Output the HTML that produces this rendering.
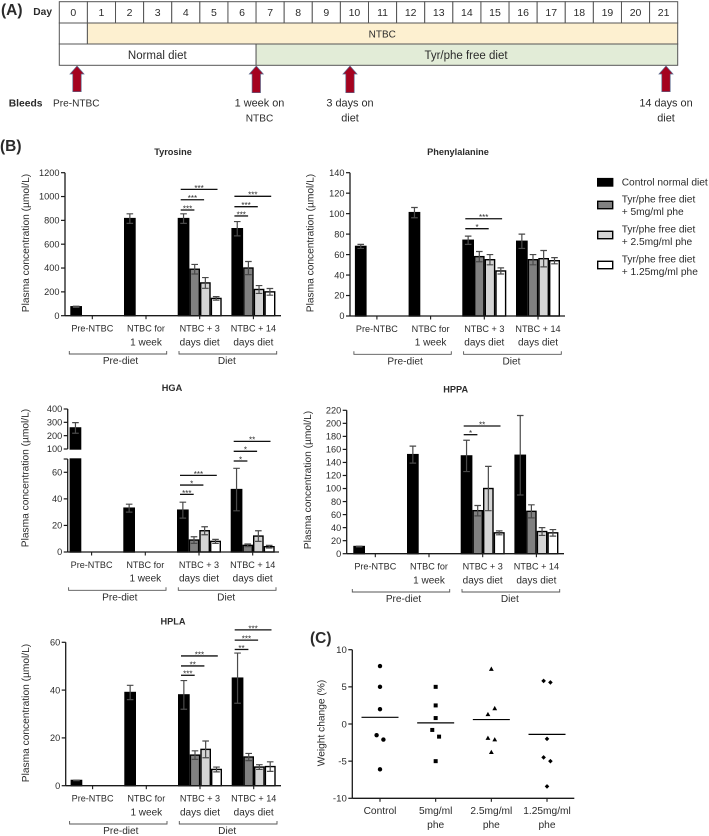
<!DOCTYPE html>
<html lang="en">
<head>
<meta charset="utf-8">
<title>Plasma metabolites on tyrosine/phenylalanine free diet</title>
<style>
html,body{margin:0;padding:0;background:#fff;}
body{width:709px;height:836px;overflow:hidden;}
svg{display:block;filter:blur(0.3px);}
text{font-family:"Liberation Sans",sans-serif;fill:#2b2b2b;}
</style>
</head>
<body>
<svg id="figure" xmlns="http://www.w3.org/2000/svg" width="709" height="836" viewBox="0 0 709 836"></svg>
<script>
// ---------- Panel A data ----------
const timelineDays = [0,1,2,3,4,5,6,7,8,9,10,11,12,13,14,15,16,17,18,19,20,21];
const bleedLabels = [["Pre-NTBC"],["1 week on","NTBC"],["3 days on","diet"],["14 days on","diet"]];

// ---------- Panel B shared categories ----------
const groupLabels = [["Pre-NTBC"],["NTBC for","1 week"],["NTBC + 3","days diet"],["NTBC + 14","days diet"]];
const bracketLabels = ["Pre-diet","Diet"];
const legendLabels = [["Control normal diet"],["Tyr/phe free diet","+ 5mg/ml phe"],["Tyr/phe free diet","+ 2.5mg/ml phe"],["Tyr/phe free diet","+ 1.25mg/ml phe"]];

// ---------- Tyrosine ----------
const tyrosineControl = [75,815,815,730];
const tyrosineControlErr = [5,40,40,60];
const tyrosine5mg = [390,400];
const tyrosine5mgErr = [40,55];
const tyrosine25mg = [275,220];
const tyrosine25mgErr = [45,33];
const tyrosine125mg = [145,200];
const tyrosine125mgErr = [15,28];
const tyrosineTicks = [0,200,400,600,800,1000,1200];
const tyrosineSigLevels = [1060,973,887,1002,915,837];
const tyrosineSigGroups = [2,2,2,3,3,3];
const tyrosineSigTargets = [3,2,1,3,2,1];
const tyrosineSigLabels = ["***","***","***","***","***","***"];

// ---------- Phenylalanine ----------
const pheControl = [68,101,74,73];
const pheControlErr = [2,5,4,7];
const phe5mg = [58,55];
const phe5mgErr = [5,5];
const phe25mg = [55,56];
const phe25mgErr = [5,8];
const phe125mg = [44,54];
const phe125mgErr = [3,3];
const pheTicks = [0,20,40,60,80,100,120,140];
const pheSigLevels = [95,85.3];
const pheSigGroups = [2,2];
const pheSigTargets = [3,2];
const pheSigLabels = ["***","*"];

// ---------- HGA ----------
const hgaControl = [258,33,31.5,47];
const hgaControlErr = [40,3,6,16];
const hga5mg = [9,5];
const hga5mgErr = [2.5,1];
const hga25mg = [16,12];
const hga25mgErr = [3,4];
const hga125mg = [8,4];
const hga125mgErr = [1.5,1];
const hgaTicks = [0,20,40,60,100,200,300,400];
const hgaSigLevels = [57.7,50.4,43.4,83.3,75.8,68.5];
const hgaSigGroups = [2,2,2,3,3,3];
const hgaSigTargets = [3,2,1,3,2,1];
const hgaSigLabels = ["***","*","***","**","*","*"];

// ---------- HPPA ----------
const hppaControl = [11,152,150,151];
const hppaControlErr = [0.5,13,24,61];
const hppa5mg = [66,65];
const hppa5mgErr = [8,10];
const hppa25mg = [100,34];
const hppa25mgErr = [34,6];
const hppa125mg = [32,32];
const hppa125mgErr = [3,5];
const hppaTicks = [0,20,40,60,80,100,120,140,160,180,200,220];
const hppaSigLevels = [195.9,182.6];
const hppaSigGroups = [2,2];
const hppaSigTargets = [3,1];
const hppaSigLabels = ["**","*"];

// ---------- HPLA ----------
const hplaControl = [2.2,39,38,45];
const hplaControlErr = [0.1,3,6,10.5];
const hpla5mg = [12.8,12];
const hpla5mgErr = [1.8,1.5];
const hpla25mg = [15.2,7.8];
const hpla25mgErr = [3.5,1];
const hpla125mg = [6.8,8];
const hpla125mgErr = [1,2];
const hplaTicks = [0,20,40,60];
const hplaSigLevels = [54.3,50.1,46.2,65.2,60.9,57];
const hplaSigGroups = [2,2,2,3,3,3];
const hplaSigTargets = [3,2,1,3,2,1];
const hplaSigLabels = ["***","**","***","***","***","**"];

// ---------- Panel C ----------
const weightCategories = [["Control"],["5mg/ml","phe"],["2.5mg/ml","phe"],["1.25mg/ml","phe"]];
const weightTicks = [-10,-5,0,5,10];
const weightControl = [7.8,5,2,-1.5,-2.1,-6.1];
const weight5mg = [5,2.5,0.8,-0.8,-1.7,-5];
const weight25mg = [7.4,2.1,1.3,-1.9,-2.1,-3.8];
const weight125mg = [5.8,5.6,-2,-4.5,-5,-8.4];
const weightControlSwarm = [0,0,0,-1,1,0];
const weight5mgSwarm = [0,0,0,-1,1,0];
const weight25mgSwarm = [0,1,-1,-1,1,0];
const weight125mgSwarm = [-1,1,0,-1,1,0];
const weightMeans = [0.9,0.15,0.6,-1.4];

const svg = document.getElementById('figure');
const NS = 'http://www.w3.org/2000/svg';
const AXIS = '#1a1a1a';

function make(parent, tag, attrs, content) {
  const el = document.createElementNS(NS, tag);
  for (const k in attrs) el.setAttribute(k, attrs[k]);
  if (content !== undefined) el.textContent = content;
  parent.appendChild(el);
  return el;
}

// ===== Panel A =====
(function panelA() {
  const g = make(svg, 'g', {});
  
  
  const L = 59.3, R = 677.7, T = 1.7, r1 = 23, r2 = 44, r3 = 65.3;
  const cell = (R - L) / timelineDays.length;
  const dayX = d => L + d * cell;

  let el = make(g, 'text', {x: 1, y: 15, 'font-size': 15.5, 'font-weight': 'bold', fill: '#111'}, '(A)');
  
  
  el = make(g, 'text', {x: 33.3, y: 15, 'font-size': 10.2, 'font-weight': 'bold'}, 'Day');
  
  

  timelineDays.forEach((d, i) => {
    const c = make(g, 'rect', {x: dayX(i), y: T, width: cell, height: r1 - T, fill: '#fff', stroke: '#555', 'stroke-width': 1});
    
    
    const t = make(g, 'text', {x: dayX(i) + cell / 2, y: 15.9, 'font-size': 10.5, 'text-anchor': 'middle'}, d);
    
    
  });

  el = make(g, 'rect', {x: L, y: r1, width: cell, height: r2 - r1, fill: '#fff', stroke: '#555', 'stroke-width': 1});
  
  
  el = make(g, 'rect', {x: dayX(1), y: r1, width: R - dayX(1), height: r2 - r1, fill: '#fdf0d0', stroke: '#555', 'stroke-width': 1});
  
  
  el = make(g, 'text', {x: 382.3, y: 37.7, 'font-size': 10, 'text-anchor': 'middle'}, 'NTBC');
  
  
  el = make(g, 'rect', {x: L, y: r2, width: dayX(7) - L, height: r3 - r2, fill: '#fff', stroke: '#555', 'stroke-width': 1});
  
  
  el = make(g, 'text', {x: 157.3, y: 58.9, 'font-size': 11.5, 'text-anchor': 'middle'}, 'Normal diet');
  
  
  el = make(g, 'rect', {x: dayX(7), y: r2, width: R - dayX(7), height: r3 - r2, fill: '#e2ecd7', stroke: '#555', 'stroke-width': 1});
  
  
  el = make(g, 'text', {x: 466, y: 58.9, 'font-size': 11.5, 'text-anchor': 'middle'}, 'Tyr/phe free diet');
  
  

  el = make(g, 'text', {x: 8.7, y: 106.7, 'font-size': 10.3, 'font-weight': 'bold'}, 'Bleeds');
  
  

  const arrowX = [77, 256.3, 350, 666];
  const labelX = [76.3, 259.5, 350, 666];
  arrowX.forEach((x, i) => {
    const bottom = i === 0 || i === 3 ? 91.7 : 92.7;
    const a = make(g, 'path', {
      d: `M${x} 66 L${x + 7} 74 L${x + 4.2} 74 L${x + 4.2} ${bottom} L${x - 4.2} ${bottom} L${x - 4.2} 74 L${x - 7} 74 Z`,
      fill: '#a5021f', stroke: '#5d6a8e', 'stroke-width': 0.7
    });
    
    
    bleedLabels[i].forEach((line, j) => {
      const fs = line.indexOf('NTBC') >= 0 ? 10.1 : 10.9;
      const t = make(g, 'text', {x: labelX[i], y: 106.7 + j * 15, 'font-size': fs, 'text-anchor': 'middle'}, line);
      
      
    });
  });
})();

// ===== Panel B =====
let el0 = make(svg, 'text', {x: 0, y: 151, 'font-size': 15.5, 'font-weight': 'bold', fill: '#111'}, '(B)');



const BAR_FILLS = ['#000', '#808080', '#d4d4d4', '#fff'];
const BAR_OFFSETS = [0, 11.7, 22.3, 33];
const BAR_WIDTHS = [11.7, 10.6, 10.7, 11];
const GROUP_STEP = 53.7;

function barChart(cfg) {
  const g = make(svg, 'g', {});
  
  

  const y = cfg.yScale;
  const groupX = i => cfg.barStart + i * GROUP_STEP;
  const y0 = y(0);

  // bars
  const series = [
    {key: 'control', vals: cfg.control, errs: cfg.controlErr, groups: [0, 1, 2, 3]},
    {key: '5mg', vals: cfg.s5, errs: cfg.s5Err, groups: [2, 3]},
    {key: '2.5mg', vals: cfg.s25, errs: cfg.s25Err, groups: [2, 3]},
    {key: '1.25mg', vals: cfg.s125, errs: cfg.s125Err, groups: [2, 3]}
  ];
  series.forEach((s, si) => {
    s.vals.forEach((v, i) => {
      const gi = s.groups[i];
      const bx = groupX(gi) + BAR_OFFSETS[si] + 0.7;
      const bw = BAR_WIDTHS[si] - 1.4;
      const top = y(v);
      if (cfg.breakLow && v > cfg.breakLow) {
        const lowTop = y(cfg.breakLow);
        const highBase = y(cfg.breakHigh);
        const low = make(g, 'rect', {x: bx, y: lowTop, width: bw, height: y0 - lowTop, fill: BAR_FILLS[si], stroke: '#000', 'stroke-width': 1.4});
        
        
        const high = make(g, 'rect', {x: bx, y: top, width: bw, height: highBase - top, fill: BAR_FILLS[si], stroke: '#000', 'stroke-width': 1.4});
        
        
      } else {
        const r = make(g, 'rect', {x: bx, y: top, width: bw, height: y0 - top, fill: BAR_FILLS[si], stroke: '#000', 'stroke-width': 1.4});
        
        
      }
      const cx = bx + bw / 2;
      const e = s.errs[i];
      const eTop = y(v + e), eBot = y(v - e);
      const path = make(g, 'path', {
        d: `M${cx - 3.3} ${eTop}H${cx + 3.3}M${cx} ${eTop}V${eBot}M${cx - 3.3} ${eBot}H${cx + 3.3}`,
        stroke: '#4a4a4a', 'stroke-width': 1.2, fill: 'none'
      });
      
      
    });
  });

  // axes
  let el = make(g, 'line', {x1: cfg.axisX, x2: cfg.axisEnd, y1: y0, y2: y0, stroke: AXIS, 'stroke-width': 1.3});
  
  
  if (cfg.breakLow) {
    el = make(g, 'line', {x1: cfg.axisX, x2: cfg.axisX, y1: y0, y2: y(cfg.breakLow), stroke: AXIS, 'stroke-width': 1.3});
    
    
    el = make(g, 'line', {x1: cfg.axisX, x2: cfg.axisX, y1: y(cfg.breakHigh), y2: y(cfg.yMax), stroke: AXIS, 'stroke-width': 1.3});
    
    
    el = make(g, 'line', {x1: cfg.axisX - 4, x2: cfg.axisX, y1: y(cfg.breakLow), y2: y(cfg.breakLow), stroke: AXIS, 'stroke-width': 1.2});
    
    
  } else {
    el = make(g, 'line', {x1: cfg.axisX, x2: cfg.axisX, y1: y0, y2: y(cfg.yMax), stroke: AXIS, 'stroke-width': 1.3});
    
    
  }
  cfg.ticks.forEach(t => {
    const py = y(t);
    const m = make(g, 'line', {x1: cfg.axisX - 4, x2: cfg.axisX, y1: py, y2: py, stroke: AXIS, 'stroke-width': 1.2});
    
    
    const l = make(g, 'text', {x: cfg.axisX - 5.5, y: py + 3.2, 'font-size': 9.2, 'text-anchor': 'end'}, t);
    
    
  });

  el = make(g, 'text', {
    x: 0, y: 0, 'font-size': 10.2, 'text-anchor': 'middle', fill: '#333',
    transform: `translate(${cfg.yTitleX} ${cfg.yTitleY}) rotate(-90)`
  }, 'Plasma concentration (µmol/L)');
  
  

  el = make(g, 'text', {x: cfg.titleX, y: cfg.titleY, 'font-size': 9.2, 'font-weight': 'bold', 'text-anchor': 'middle'}, cfg.title);
  
  

  // category labels
  groupLabels.forEach((lines, i) => {
    const cx = groupX(i) + 22;
    const m = make(g, 'line', {x1: cx, x2: cx, y1: y0, y2: y0 + 3.5, stroke: AXIS, 'stroke-width': 1.1});
    
    
    lines.forEach((line, j) => {
      const t = make(g, 'text', {x: cx, y: y0 + 16 + j * 13.6, 'font-size': j === 0 ? 9.1 : 10, 'text-anchor': 'middle'}, line);
      
      
    });
  });

  // group brackets
  const brY = y0 + 38.3;
  [[groupX(0) - 1, groupX(1) + 42.7], [groupX(2) + 1.3, groupX(3) + 45.3]].forEach((b, i) => {
    const p = make(g, 'path', {d: `M${b[0]} ${brY - 3}V${brY}H${b[1]}V${brY - 3}`, fill: 'none', stroke: '#555', 'stroke-width': 0.9});
    
    
    const t = make(g, 'text', {x: i === 0 ? (b[0] + b[1]) / 2 + 2.5 : (b[0] + b[1]) / 2 - 1, y: brY + 10.2, 'font-size': 10.1, 'text-anchor': 'middle'}, bracketLabels[i]);
    
    
  });

  // significance
  const sigY = cfg.sigScale || y;
  const sigEnds = [0, 16.7, 26.4, 39.8];
  cfg.sigLevels.forEach((lv, i) => {
    const sx = groupX(cfg.sigGroups[i]) + 3;
    const ex = groupX(cfg.sigGroups[i]) + sigEnds[cfg.sigTargets[i]];
    const py = sigY(lv);
    const ln = make(g, 'line', {x1: sx, x2: ex, y1: py, y2: py, stroke: '#111', 'stroke-width': 1.3});
    
    
    const st = make(g, 'text', {x: (sx + ex) / 2, y: py + 1.4, 'font-size': 8, 'text-anchor': 'middle', fill: '#333'}, cfg.sigLabels[i]);
    
    
  });
}

function linearScale(v0, p0, v1, p1) {
  return v => p0 + (v - v0) * (p1 - p0) / (v1 - v0);
}

barChart({
  name: 'tyrosine', title: 'Tyrosine', titleX: 173, titleY: 155,
  barStart: 177.7 - 2 * GROUP_STEP, axisX: 65, axisEnd: 281,
  yScale: linearScale(0, 315.7, 1200, 172.7), yMax: 1200, ticks: tyrosineTicks,
  yTitleX: 29, yTitleY: 243,
  control: tyrosineControl, controlErr: tyrosineControlErr,
  s5: tyrosine5mg, s5Err: tyrosine5mgErr, s25: tyrosine25mg, s25Err: tyrosine25mgErr, s125: tyrosine125mg, s125Err: tyrosine125mgErr,
  sigLevels: tyrosineSigLevels, sigGroups: tyrosineSigGroups, sigTargets: tyrosineSigTargets, sigLabels: tyrosineSigLabels
});

barChart({
  name: 'phenylalanine', title: 'Phenylalanine', titleX: 458, titleY: 155,
  barStart: 462.3 - 2 * GROUP_STEP, axisX: 350, axisEnd: 565,
  yScale: linearScale(0, 316, 140, 172.7), yMax: 140, ticks: pheTicks,
  yTitleX: 313.5, yTitleY: 243,
  control: pheControl, controlErr: pheControlErr,
  s5: phe5mg, s5Err: phe5mgErr, s25: phe25mg, s25Err: phe25mgErr, s125: phe125mg, s125Err: phe125mgErr,
  sigLevels: pheSigLevels, sigGroups: pheSigGroups, sigTargets: pheSigTargets, sigLabels: pheSigLabels
});

const hgaLower = linearScale(0, 552, 60, 472.3);
const hgaUpper = linearScale(100, 449, 400, 409);
barChart({
  name: 'hga', title: 'HGA', titleX: 172, titleY: 391,
  barStart: 177 - 2 * GROUP_STEP, axisX: 67.7, axisEnd: 279,
  yScale: v => v >= 100 ? hgaUpper(v) : hgaLower(v), sigScale: hgaLower,
  breakLow: 70, breakHigh: 100, yMax: 400, ticks: hgaTicks,
  yTitleX: 28.5, yTitleY: 478,
  control: hgaControl, controlErr: hgaControlErr,
  s5: hga5mg, s5Err: hga5mgErr, s25: hga25mg, s25Err: hga25mgErr, s125: hga125mg, s125Err: hga125mgErr,
  sigLevels: hgaSigLevels, sigGroups: hgaSigGroups, sigTargets: hgaSigTargets, sigLabels: hgaSigLabels
});

barChart({
  name: 'hppa', title: 'HPPA', titleX: 455.7, titleY: 392.7,
  barStart: 460.7 - 2 * GROUP_STEP, axisX: 346.7, axisEnd: 564,
  yScale: linearScale(0, 553.7, 220, 410.3), yMax: 220, ticks: hppaTicks,
  yTitleX: 311, yTitleY: 480,
  control: hppaControl, controlErr: hppaControlErr,
  s5: hppa5mg, s5Err: hppa5mgErr, s25: hppa25mg, s25Err: hppa25mgErr, s125: hppa125mg, s125Err: hppa125mgErr,
  sigLevels: hppaSigLevels, sigGroups: hppaSigGroups, sigTargets: hppaSigTargets, sigLabels: hppaSigLabels
});

barChart({
  name: 'hpla', title: 'HPLA', titleX: 173, titleY: 624.7,
  barStart: 178 - 2 * GROUP_STEP, axisX: 65.7, axisEnd: 281,
  yScale: linearScale(0, 785.7, 60, 642.3), yMax: 60, ticks: hplaTicks,
  yTitleX: 29, yTitleY: 713,
  control: hplaControl, controlErr: hplaControlErr,
  s5: hpla5mg, s5Err: hpla5mgErr, s25: hpla25mg, s25Err: hpla25mgErr, s125: hpla125mg, s125Err: hpla125mgErr,
  sigLevels: hplaSigLevels, sigGroups: hplaSigGroups, sigTargets: hplaSigTargets, sigLabels: hplaSigLabels
});

// ===== Legend =====
(function legend() {
  const g = make(svg, 'g', {});
  
  
  const swatchY = [182.3, 205, 235, 265];
  const firstBaseline = [185.7, 202.3, 232.3, 262.3];
  legendLabels.forEach((lines, i) => {
    const s = make(g, 'rect', {x: 597.7, y: swatchY[i] - 3.7, width: 15, height: 7.4, fill: BAR_FILLS[i], stroke: '#000', 'stroke-width': 1.4});
    
    
    lines.forEach((line, j) => {
      const t = make(g, 'text', {x: 621.7, y: firstBaseline[i] + j * 12.8, 'font-size': 10.2}, line);
      
      
    });
  });
})();

// ===== Panel C =====
(function panelC() {
  const g = make(svg, 'g', {});
  
  
  const y = linearScale(-10, 798.3, 10, 649.7);
  const catX = i => 380 + i * 55.67;
  const axisX = 352.3, axisEnd = 574.3;

  let el = make(g, 'text', {x: 310, y: 643, 'font-size': 15.5, 'font-weight': 'bold', fill: '#111'}, '(C)');
  
  
  el = make(g, 'line', {x1: axisX, x2: axisEnd, y1: y(-10), y2: y(-10), stroke: AXIS, 'stroke-width': 1.3});
  
  
  el = make(g, 'line', {x1: axisX, x2: axisX, y1: y(-10), y2: y(10), stroke: AXIS, 'stroke-width': 1.3});
  
  
  weightTicks.forEach(t => {
    const py = y(t);
    const m = make(g, 'line', {x1: axisX - 4, x2: axisX, y1: py, y2: py, stroke: AXIS, 'stroke-width': 1.2});
    
    
    const l = make(g, 'text', {x: axisX - 5.5, y: py + 3.3, 'font-size': 9.6, 'text-anchor': 'end'}, t);
    
    
  });
  el = make(g, 'text', {x: 0, y: 0, 'font-size': 10.2, 'text-anchor': 'middle', fill: '#333', transform: 'translate(324.5 723) rotate(-90)'}, 'Weight change (%)');
  
  

  const allValues = [weightControl, weight5mg, weight25mg, weight125mg];
  const allSwarm = [weightControlSwarm, weight5mgSwarm, weight25mgSwarm, weight125mgSwarm];
  const marker = [
    (x, p) => ['circle', {cx: x, cy: p, r: 2.2, fill: '#000'}],
    (x, p) => ['rect', {x: x - 2, y: p - 2, width: 4, height: 4, fill: '#000'}],
    (x, p) => ['path', {d: `M${x} ${p - 2.5}L${x + 2.4} ${p + 1.8}L${x - 2.4} ${p + 1.8}Z`, fill: '#000'}],
    (x, p) => ['path', {d: `M${x} ${p - 2.3}L${x + 2.3} ${p}L${x} ${p + 2.3}L${x - 2.3} ${p}Z`, fill: '#000'}]
  ];
  weightCategories.forEach((lines, i) => {
    const cx = catX(i);
    const tk = make(g, 'line', {x1: cx, x2: cx, y1: y(-10), y2: y(-10) + 3.5, stroke: AXIS, 'stroke-width': 1.1});
    
    
    lines.forEach((line, j) => {
      const t = make(g, 'text', {x: cx, y: 814 + j * 14, 'font-size': 10.2, 'text-anchor': 'middle'}, line);
      
      
    });
    allValues[i].forEach((v, k) => {
      const spec = marker[i](cx + allSwarm[i][k] * 3.4, y(v));
      const pt = make(g, spec[0], spec[1]);
      
      
    });
    const my = y(weightMeans[i]);
    const ml = make(g, 'line', {x1: cx - 18.5, x2: cx + 18.5, y1: my, y2: my, stroke: '#000', 'stroke-width': 1.2});
    
    
  });
})();
</script>
</body>
</html>
